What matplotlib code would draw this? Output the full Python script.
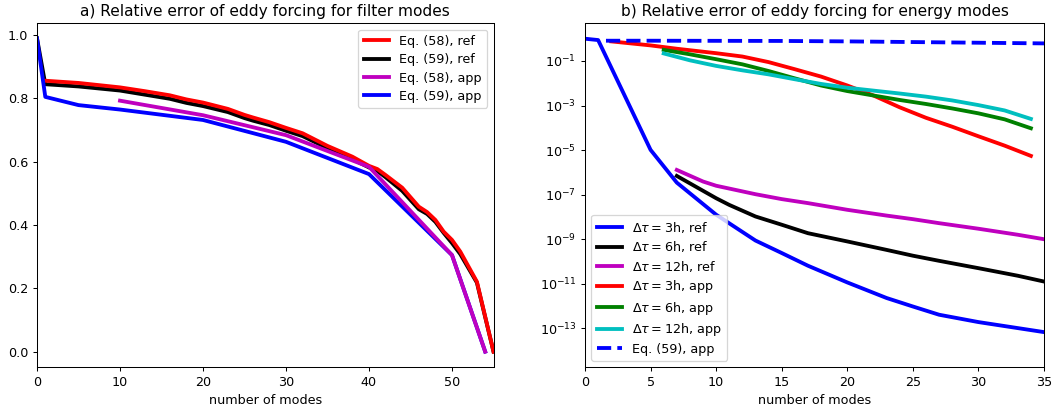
import numpy as np
import matplotlib
matplotlib.use("Agg")
import matplotlib.pyplot as plt
from matplotlib.ticker import NullLocator

# ---------------- panel a) data ----------------
eq58_ref_x = [1, 5, 10, 13, 16, 18, 20, 23, 25, 26, 28, 30, 32, 35, 38, 40, 41, 42, 44, 46, 47, 48, 49, 50, 51, 53, 55]
eq58_ref_y = [0.856, 0.849, 0.835, 0.823, 0.81, 0.797, 0.787, 0.767, 0.748, 0.74, 0.725, 0.707, 0.69, 0.65,
              0.616, 0.587, 0.577, 0.558, 0.518, 0.458, 0.441, 0.416, 0.379, 0.353, 0.316, 0.221, 0.0]

eq59_ref_x = [0, 1, 5, 10, 13, 16, 18, 20, 23, 25, 26, 28, 30, 32, 35, 38, 40, 41, 42, 44, 46, 47, 48, 49, 50, 51, 53, 55]
eq59_ref_y = [0.99, 0.845, 0.838, 0.825, 0.812, 0.799, 0.786, 0.776, 0.757, 0.738, 0.73, 0.716, 0.698, 0.681,
              0.643, 0.608, 0.582, 0.571, 0.551, 0.508, 0.45, 0.435, 0.41, 0.375, 0.343, 0.308, 0.218, 0.0]

eq58_app_x = [10, 20, 30, 40, 50, 54]
eq58_app_y = [0.793, 0.747, 0.684, 0.584, 0.305, 0.0]

eq59_app_x = [0, 1, 5, 10, 20, 30, 40, 50, 54]
eq59_app_y = [0.99, 0.805, 0.779, 0.765, 0.732, 0.663, 0.561, 0.305, 0.0]

# ---------------- panel b) data (log10 of relative error) ----------------
ref3_x = [0, 1, 5, 7, 10, 13, 15, 17, 20, 23, 25, 27, 30, 33, 35]
ref3_log = [0.0, -0.06, -4.99, -6.46, -7.9, -9.06, -9.62, -10.19, -10.94, -11.64, -12.02, -12.39, -12.72, -12.99, -13.17]

ref6_x = [7, 10, 11, 13, 15, 17, 20, 23, 25, 27, 30, 33, 35]
ref6_log = [-6.16, -7.16, -7.46, -7.98, -8.35, -8.73, -9.1, -9.48, -9.74, -9.97, -10.3, -10.64, -10.9]

ref12_x = [7, 9, 10, 13, 15, 17, 20, 23, 25, 27, 30, 33, 35]
ref12_log = [-5.89, -6.41, -6.6, -6.98, -7.2, -7.38, -7.68, -7.94, -8.1, -8.28, -8.53, -8.8, -9.0]

app3_x = [2, 5, 7, 10, 12, 14, 16, 18, 20, 22, 24, 26, 28, 30, 32, 34]
app3_log = [-0.12, -0.3, -0.45, -0.65, -0.8, -1.05, -1.37, -1.7, -2.1, -2.55, -3.08, -3.55, -3.95, -4.38, -4.8, -5.26]

app6_x = [6, 8, 10, 12, 14, 16, 18, 20, 22, 24, 26, 28, 30, 32, 34]
app6_log = [-0.5, -0.7, -0.92, -1.15, -1.45, -1.78, -2.1, -2.35, -2.55, -2.75, -2.93, -3.13, -3.35, -3.62, -4.02]

app12_x = [6, 8, 10, 12, 14, 16, 18, 20, 22, 24, 26, 28, 30, 32, 34]
app12_log = [-0.66, -0.97, -1.22, -1.42, -1.6, -1.82, -2.03, -2.2, -2.33, -2.46, -2.6, -2.77, -2.98, -3.22, -3.6]

eq59b_x = [1.6, 5, 10, 15, 20, 25, 30, 35]
eq59b_log = [-0.09, -0.09, -0.095, -0.10, -0.12, -0.15, -0.18, -0.21]

yticks_b_exp = [-1, -3, -5, -7, -9, -11, -13]

# ---------------- figure ----------------
W, H = 1060, 411
DPI = 92
fig = plt.figure(figsize=(W / DPI, H / DPI), dpi=DPI)
axa = fig.add_axes([37 / W, (H - 367.3) / H, 456.5 / W, 344 / H])
axb = fig.add_axes([585 / W, (H - 367.3) / H, 459 / W, 344 / H])

lw = 3
l_k, = axa.plot(eq59_ref_x, eq59_ref_y, color='k', lw=lw, label='Eq. (59), ref')
l_r, = axa.plot(eq58_ref_x, eq58_ref_y, color='r', lw=lw, label='Eq. (58), ref')
l_b, = axa.plot(eq59_app_x, eq59_app_y, color='b', lw=lw, label='Eq. (59), app')
l_m, = axa.plot(eq58_app_x, eq58_app_y, color='m', lw=lw, label='Eq. (58), app')
axa.legend(handles=[l_r, l_k, l_m, l_b], loc='upper right', labelspacing=0.42)
axa.set_xlim(0, 55)
axa.set_ylim(-0.0495, 1.0375)
axa.set_xticks([0, 10, 20, 30, 40, 50])
axa.set_yticks([0.0, 0.2, 0.4, 0.6, 0.8, 1.0])
axa.set_xlabel('number of modes')
axa.set_title('a) Relative error of eddy forcing for filter modes')

def p10(a):
    return 10.0 ** np.asarray(a)

axb.plot(ref3_x, p10(ref3_log), color='b', lw=lw, label=r'$\Delta\tau = 3$h, ref')
axb.plot(ref6_x, p10(ref6_log), color='k', lw=lw, label=r'$\Delta\tau = 6$h, ref')
axb.plot(ref12_x, p10(ref12_log), color='m', lw=lw, label=r'$\Delta\tau = 12$h, ref')
axb.plot(app3_x, p10(app3_log), color='r', lw=lw, label=r'$\Delta\tau = 3$h, app')
axb.plot(app6_x, p10(app6_log), color='g', lw=lw, label=r'$\Delta\tau = 6$h, app')
axb.plot(app12_x, p10(app12_log), color='c', lw=lw, label=r'$\Delta\tau = 12$h, app')
axb.plot(eq59b_x, p10(eq59b_log), color='b', lw=lw, ls='--', label='Eq. (59), app')
axb.set_yscale('log')
axb.set_xlim(0, 35)
axb.set_ylim(10 ** -14.75, 10 ** 0.692)
axb.set_yticks([10.0 ** e for e in yticks_b_exp])
axb.yaxis.set_minor_locator(NullLocator())
axb.set_xticks([0, 5, 10, 15, 20, 25, 30, 35])
axb.set_xlabel('number of modes')
axb.set_title('b) Relative error of eddy forcing for energy modes')
axb.legend(loc='lower left', labelspacing=0.35)

fig.savefig('out.png', dpi=DPI)
